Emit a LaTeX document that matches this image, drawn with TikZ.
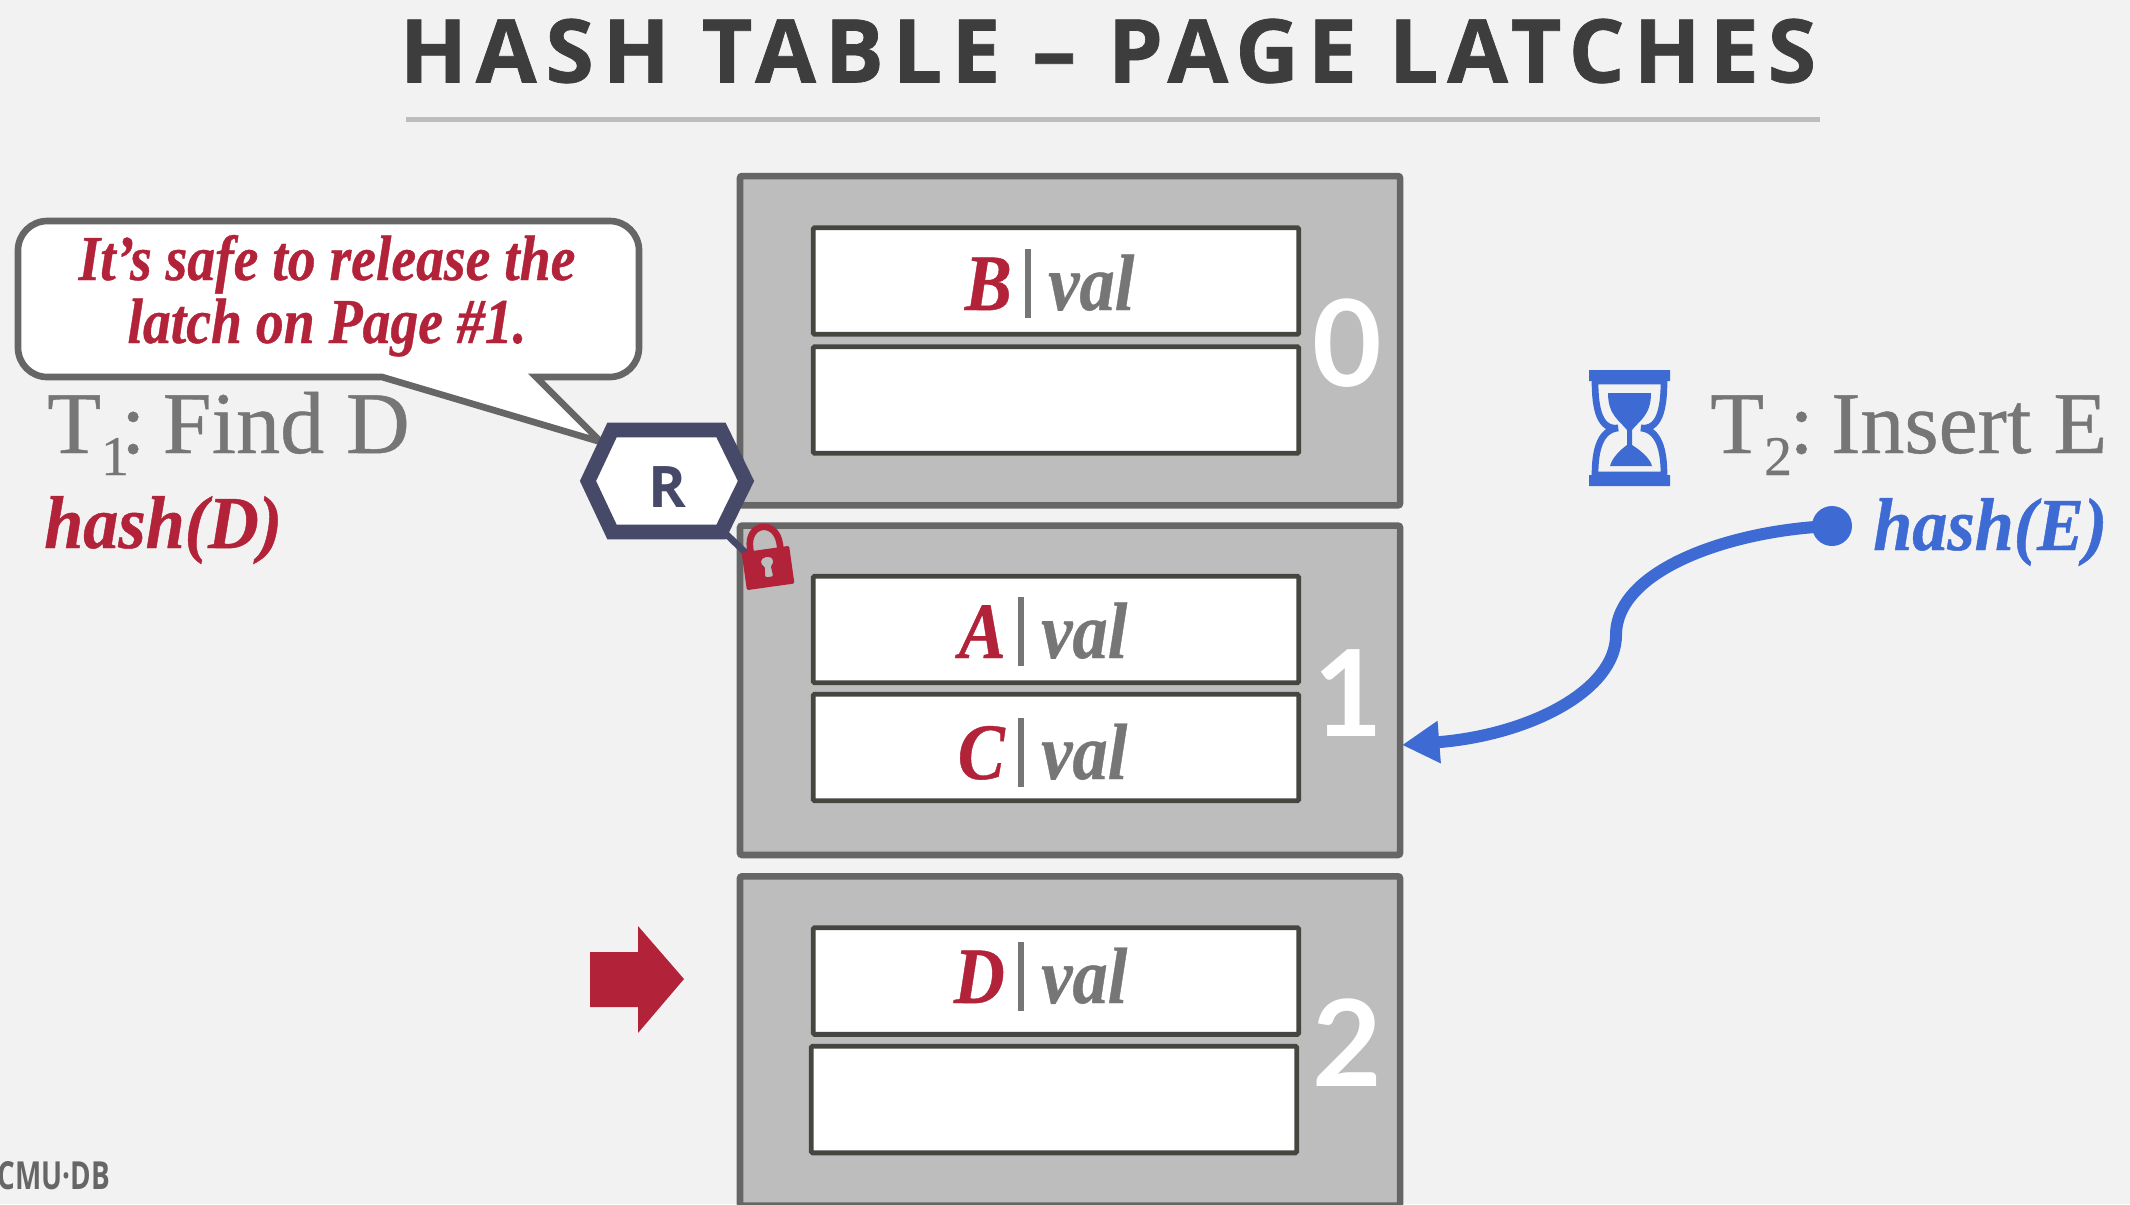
\documentclass[tikz,border=0pt]{standalone}
\usepackage{fontspec}
\usetikzlibrary{arrows.meta}
\setmainfont{Liberation Serif}
\setsansfont{Open Sans}
\newfontfamily\titlefont[LetterSpace=10,FakeBold=0.8]{Open Sans}
\newfontfamily\numfont{Lato}
\newfontfamily\footfont[FakeStretch=0.72]{Open Sans}
\newfontfamily\txnfont[FakeBold=0.5]{Liberation Serif}
\newfontfamily\keyfont[FakeStretch=0.88,FakeBold=0.5]{Liberation Serif}
\newfontfamily\notefont[FakeStretch=0.87,FakeBold=0.6]{Liberation Serif}
\newfontfamily\hashfont[FakeStretch=0.94,FakeBold=0.6]{Liberation Serif}
\definecolor{slidebg}{RGB}{242,242,242}
\definecolor{pagegray}{RGB}{189,189,189}
\definecolor{edgegray}{RGB}{102,102,102}
\definecolor{slotedge}{RGB}{70,70,64}
\definecolor{titlegray}{RGB}{61,61,61}
\definecolor{textgray}{RGB}{118,118,118}
\definecolor{latchred}{RGB}{178,35,58}
\definecolor{waitblue}{RGB}{62,107,211}
\definecolor{latchnavy}{RGB}{71,73,105}
\tikzset{
  pagebox/.style={draw=edgegray,fill=pagegray,line width=4.9pt,rounded corners=1.5pt,inner sep=0pt,minimum width=495pt,minimum height=247pt},
  slotbox/.style={draw=slotedge,fill=white,line width=3.6pt,rounded corners=1pt,inner sep=0pt,minimum width=364pt,minimum height=80pt},
  pagenum/.style={font=\numfont\bfseries\fontsize{90}{90}\selectfont,text=white,inner sep=0pt},
  keytext/.style={font=\keyfont\bfseries\itshape\fontsize{60}{60}\selectfont,text=latchred,inner sep=0pt},
  valtext/.style={font=\keyfont\bfseries\itshape\fontsize{60}{60}\selectfont,text=textgray,inner sep=0pt},
  txntext/.style={font=\txnfont\fontsize{66}{66}\selectfont,text=textgray,inner sep=0pt},
  hashtext/.style={font=\hashfont\bfseries\itshape\fontsize{56}{56}\selectfont,inner sep=0pt},
  notetext/.style={anchor=base,inner sep=0pt,font=\notefont\bfseries\itshape\fontsize{48}{48}\selectfont,text=latchred},
}
% one key and its value inside a slot
\newcommand{\keyval}[5]{%
  \draw (#2,#5) node [anchor=base east,keytext] (key#1) {#3};
  \draw [textgray,line width=5.2pt] (#4,#5-61) -- (#4,#5+8);
  \draw (#4+20,#5) node [anchor=base west,valtext] (val#1) {val};
}
% subscript of a transaction name
\newcommand{\txnsub}[1]{\raisebox{-16.5pt}{\fontsize{42}{42}\selectfont #1}}
\begin{document}
\begin{tikzpicture}[x=0.75pt,y=0.75pt,yscale=-1,xscale=1]
\fill [slidebg] (0,0) rectangle (2130,1204);
\useasboundingbox (0,0) rectangle (2130,1204);

% Title and rule
\draw (1108,51) node [font=\titlefont\bfseries\fontsize{66}{66}\selectfont,text=titlegray,inner sep=0pt] (title) {HASH TABLE – PAGE LATCHES};
\draw [pagegray,line width=3.75pt] (406,119.5) -- (1820,119.5);

% Pages
\draw (1070,340.7) node [pagebox] (page0) {};
\draw (1070,690.3) node [pagebox] (page1) {};
\draw (1070,1041) node [pagebox] (page2) {};

% Slots
\draw (1056,281) node [slotbox] (slotb) {};
\draw (1056,400) node [slotbox] (empty0) {};
\draw (1056,629.5) node [slotbox] (slota) {};
\draw (1056,747.5) node [slotbox] (slotc) {};
\draw (1056,981) node [slotbox] (slotd) {};
\draw (1054,1099.5) node [slotbox] (empty2) {};

% Keys and values
\keyval{b}{1012}{B}{1028}{310}
\keyval{a}{1006}{A}{1021}{658}
\keyval{c}{1005}{C}{1021}{779}
\keyval{d}{1005}{D}{1021}{1003}

% Page numbers
\draw (1347.5,343) node [pagenum] (num0) {0};
\draw (1348.5,693.5) node [pagenum] (num1) {1};
\draw (1347.5,1043) node [pagenum] (num2) {2};

% Speech bubble
\draw [edgegray,line width=5pt,fill=white,line join=miter,rounded corners=22pt]
  (300,221) -- (639,221) -- (639,377) [sharp corners] -- (536,377) -- (601,442) -- (382,377) [rounded corners=22pt] -- (18,377) -- (18,221) -- cycle;
\draw (327,280) node [notetext] (notea) {It’s safe to release the};
\draw (327,343) node [notetext] (noteb) {latch on Page \#1.};

% Transactions
\draw (47,453) node [anchor=base west,txntext] (txna) {T\txnsub{1}\kern-6pt:\kern13pt Find D};
\draw (44,548) node [anchor=base west,hashtext,text=latchred] (hasha) {hash(D)};
\draw (1710,453) node [anchor=base west,txntext] (txnb) {T\txnsub{2}\kern-2pt:\kern13pt Insert E};
\draw (1873,550) node [anchor=base west,hashtext,text=waitblue] (hashb) {hash(E)};

% Read latch
\coordinate (latchend) at (748,555);
\draw [latchnavy,line width=5pt] (724,532) -- (latchend);
\draw [latchnavy,line width=11pt,fill=white,line join=miter] (612,430) -- (721,430) -- (746,481) -- (721,532) -- (612,532) -- (588,481) -- cycle;
\draw (667,487) node [inner sep=0pt,text=latchnavy,font=\sffamily\bfseries\fontsize{43}{43}\selectfont] (latchr) {R};

% Padlock
\begin{scope}[shift={(768,568)},rotate=-8]
\draw [latchred,line width=5pt] (-15,-12) -- (-15,-22) .. controls (-15,-48) and (15,-48) .. (15,-22) -- (15,-12);
\fill [latchred,rounded corners=1pt,even odd rule] (-24,-19) rectangle (24,19) (-3,-2) .. controls (-7,-4) and (-7,-11) .. (0,-11) .. controls (7,-11) and (7,-4) .. (3,-2) -- (4,9) -- (-4,9) -- cycle;
\end{scope}

% Hourglass
\fill [waitblue] (1589,370) rectangle (1670,381) (1589,475) rectangle (1670,486);
\draw [waitblue,line width=5pt,fill=slidebg] (1595,381) .. controls (1595,410) and (1600,430) .. (1618,428) .. controls (1600,430) and (1595,450) .. (1595,475) -- (1664,475) .. controls (1664,450) and (1659,430) .. (1641,428) .. controls (1659,430) and (1664,410) .. (1664,381) -- cycle;
\fill [waitblue] (1608,393) -- (1651,393) .. controls (1651,415) and (1640,420) .. (1632,430) -- (1632,445) .. controls (1640,450) and (1650,458) .. (1652,466) -- (1610,466) .. controls (1612,458) and (1620,450) .. (1627,445) -- (1627,430) .. controls (1619,420) and (1608,415) .. (1608,393) -- cycle;

% Hash pointer
\draw (1832,526) node [circle,fill=waitblue,inner sep=0pt,minimum size=30pt] (hashdot) {};
\coordinate (hashbend) at (1616,635);
\coordinate (hashtip) at (1402,745);
\draw [waitblue,line width=9pt,-{Triangle[length=28pt,width=30pt]}] (hashdot.center) .. controls (1730,530) and (1616,570) .. (hashbend) .. controls (1616,690) and (1530,735) .. (hashtip);

% Page pointer
\fill [latchred] (590,952) -- (638,952) -- (638,926) -- (684,979) -- (638,1033) -- (638,1007) -- (590,1007) -- cycle;

% Footer
\draw (110,1176) node [anchor=east,inner sep=0pt,text=edgegray,font=\footfont\bfseries\fontsize{29}{29}\selectfont] (footer) {CMU·DB};
\end{tikzpicture}
\end{document}
